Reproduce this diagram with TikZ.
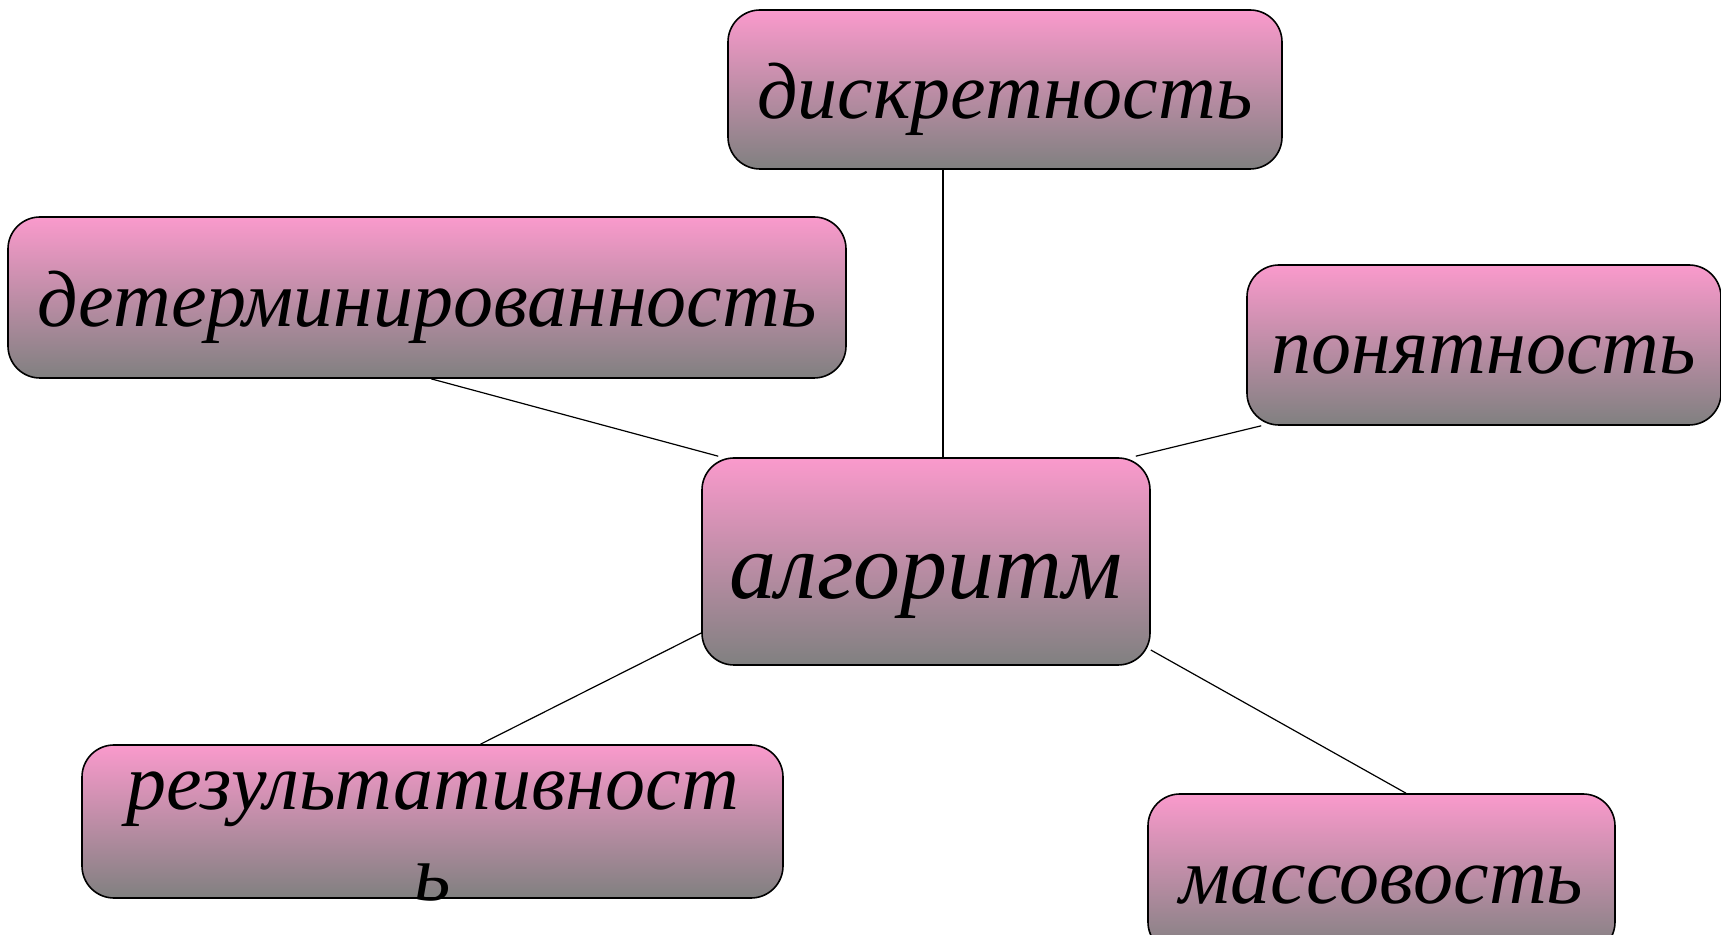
\documentclass[tikz,border=0pt]{standalone}
\usepackage{fontspec}
\setmainfont{Liberation Serif}
\definecolor{boxpink}{RGB}{250,154,204}
\definecolor{boxgray}{RGB}{128,128,128}

\begin{document}
\begin{tikzpicture}[x=0.5pt, y=-0.5pt,
  prop/.style={rectangle, rounded corners=16pt, draw=black, line width=0.8pt,
    top color=boxpink, bottom color=boxgray, inner sep=0pt,
    font=\fontsize{40}{40}\selectfont\itshape, text height=40pt, text depth=11pt},
  link/.style={draw=black, line width=0.6pt}]

\useasboundingbox (0,0) rectangle (1721,935);

\node [prop, minimum width=224pt, minimum height=103.5pt,
  font=\fontsize{47}{47}\selectfont\itshape, text height=50pt, text depth=13pt] (alg) at (926,561.5) {алгоритм};
\node [prop, minimum width=277pt, minimum height=79.5pt] (disc) at (1005,89.5) {дискретность};
\node [prop, minimum width=419pt, minimum height=80.5pt] (det) at (427,297.5) {детерминированность};
\node [prop, minimum width=237pt, minimum height=80pt] (pon) at (1484,345) {понятность};
\node [prop, minimum width=350.5pt, minimum height=76.5pt] (res) at (432.5,821.5) {};
\node [anchor=base, align=center, font=\fontsize{40}{45.5}\selectfont\itshape] (restxt) at (432.5,900) {результативност\\ь};
\node [prop, minimum width=233.5pt, minimum height=80pt] (mas) at (1381.5,874) {массовость};

\draw [link] ([xshift=-31pt]disc.south) to ([xshift=8.5pt]alg.north);
\draw [link] ([xshift=2pt]det.south) to ([xshift=8.5pt,yshift=0.5pt]alg.north west);
\draw [link] ([xshift=7.5pt]pon.south west) to ([xshift=-7.5pt,yshift=0.5pt]alg.north east);
\draw [link] ([xshift=24pt]res.north) to ([yshift=-35.75pt]alg.west);
\draw [link] ([xshift=12.25pt]mas.north) to ([yshift=-44.25pt]alg.east);

\end{tikzpicture}
\end{document}
